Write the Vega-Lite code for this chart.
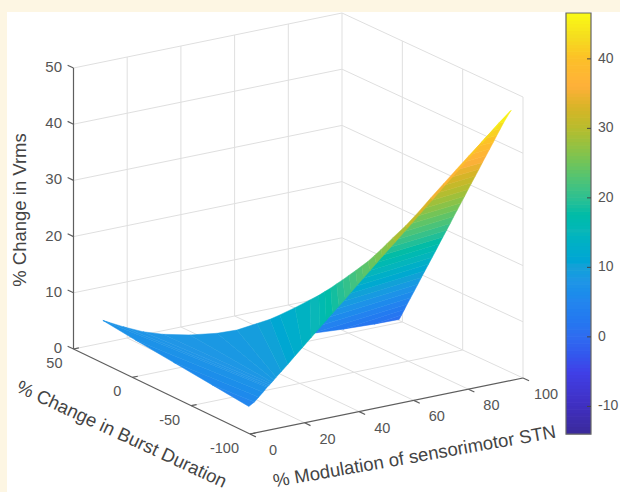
{"$schema":"https://vega.github.io/schema/vega-lite/v6.json","autosize":{"type":"none"},"width":613,"height":480,"padding":{"left":7,"top":12,"right":0,"bottom":0},"background":"#fdf6e3","view":{"fill":"white","stroke":null},
"config":{"text":{"font":"Liberation Sans"}},
"encoding":{"x":{"field":"px","type":"quantitative","scale":{"domain":[7,620]},"axis":null},"y":{"field":"py","type":"quantitative","scale":{"domain":[492,12]},"axis":null}},
"layer":[
{"data":{"values":[
{"kind":"grid","m1":0,"b1":50,"z1":0,"m2":100,"b2":50,"z2":0},{"kind":"grid","m1":0,"b1":50,"z1":10,"m2":100,"b2":50,"z2":10},{"kind":"grid","m1":0,"b1":50,"z1":20,"m2":100,"b2":50,"z2":20},{"kind":"grid","m1":0,"b1":50,"z1":30,"m2":100,"b2":50,"z2":30},{"kind":"grid","m1":0,"b1":50,"z1":40,"m2":100,"b2":50,"z2":40},{"kind":"grid","m1":0,"b1":50,"z1":50,"m2":100,"b2":50,"z2":50},
{"kind":"grid","m1":100,"b1":50,"z1":0,"m2":100,"b2":-100,"z2":0},{"kind":"grid","m1":100,"b1":50,"z1":10,"m2":100,"b2":-100,"z2":10},{"kind":"grid","m1":100,"b1":50,"z1":20,"m2":100,"b2":-100,"z2":20},{"kind":"grid","m1":100,"b1":50,"z1":30,"m2":100,"b2":-100,"z2":30},{"kind":"grid","m1":100,"b1":50,"z1":40,"m2":100,"b2":-100,"z2":40},{"kind":"grid","m1":100,"b1":50,"z1":50,"m2":100,"b2":-100,"z2":50},
{"kind":"grid","m1":20,"b1":50,"z1":0,"m2":20,"b2":50,"z2":50},{"kind":"grid","m1":40,"b1":50,"z1":0,"m2":40,"b2":50,"z2":50},{"kind":"grid","m1":60,"b1":50,"z1":0,"m2":60,"b2":50,"z2":50},{"kind":"grid","m1":80,"b1":50,"z1":0,"m2":80,"b2":50,"z2":50},{"kind":"grid","m1":100,"b1":50,"z1":0,"m2":100,"b2":50,"z2":50},
{"kind":"grid","m1":100,"b1":0,"z1":0,"m2":100,"b2":0,"z2":50},{"kind":"grid","m1":100,"b1":-50,"z1":0,"m2":100,"b2":-50,"z2":50},{"kind":"grid","m1":100,"b1":-100,"z1":0,"m2":100,"b2":-100,"z2":50},
{"kind":"grid","m1":20,"b1":-100,"z1":0,"m2":20,"b2":50,"z2":0},{"kind":"grid","m1":40,"b1":-100,"z1":0,"m2":40,"b2":50,"z2":0},{"kind":"grid","m1":60,"b1":-100,"z1":0,"m2":60,"b2":50,"z2":0},{"kind":"grid","m1":80,"b1":-100,"z1":0,"m2":80,"b2":50,"z2":0},
{"kind":"grid","m1":0,"b1":0,"z1":0,"m2":100,"b2":0,"z2":0},{"kind":"grid","m1":0,"b1":-50,"z1":0,"m2":100,"b2":-50,"z2":0},
{"kind":"axis","m1":0,"b1":50,"z1":0,"m2":0,"b2":50,"z2":50},{"kind":"axis","m1":0,"b1":50,"z1":0,"m2":0,"b2":-100,"z2":0},{"kind":"axis","m1":0,"b1":-100,"z1":0,"m2":100,"b2":-100,"z2":0},
{"kind":"axis","m1":0,"b1":50,"z1":0,"m2":0,"b2":55,"z2":0},{"kind":"axis","m1":0,"b1":50,"z1":10,"m2":0,"b2":55,"z2":10},{"kind":"axis","m1":0,"b1":50,"z1":20,"m2":0,"b2":55,"z2":20},{"kind":"axis","m1":0,"b1":50,"z1":30,"m2":0,"b2":55,"z2":30},{"kind":"axis","m1":0,"b1":50,"z1":40,"m2":0,"b2":55,"z2":40},{"kind":"axis","m1":0,"b1":50,"z1":50,"m2":0,"b2":55,"z2":50},
{"kind":"axis","m1":0,"b1":50,"z1":0,"m2":2,"b2":50,"z2":0},{"kind":"axis","m1":0,"b1":0,"z1":0,"m2":2,"b2":0,"z2":0},{"kind":"axis","m1":0,"b1":-50,"z1":0,"m2":2,"b2":-50,"z2":0},{"kind":"axis","m1":0,"b1":-100,"z1":0,"m2":2,"b2":-100,"z2":0},
{"kind":"axis","m1":0,"b1":-100,"z1":0,"m2":0,"b2":-105,"z2":0},{"kind":"axis","m1":20,"b1":-100,"z1":0,"m2":20,"b2":-105,"z2":0},{"kind":"axis","m1":40,"b1":-100,"z1":0,"m2":40,"b2":-105,"z2":0},{"kind":"axis","m1":60,"b1":-100,"z1":0,"m2":60,"b2":-105,"z2":0},{"kind":"axis","m1":80,"b1":-100,"z1":0,"m2":80,"b2":-105,"z2":0},{"kind":"axis","m1":100,"b1":-100,"z1":0,"m2":100,"b2":-105,"z2":0}
]},
"transform":[
{"calculate":"73.5+2.685*datum.m1+1.1767*(50-datum.b1)+0.0003*datum.m1*(50-datum.b1)","as":"px"},
{"calculate":"349-0.55*datum.m1+0.5667*(50-datum.b1)-0.0000667*datum.m1*(50-datum.b1)-5.62*datum.z1","as":"py"},
{"calculate":"73.5+2.685*datum.m2+1.1767*(50-datum.b2)+0.0003*datum.m2*(50-datum.b2)","as":"px2"},
{"calculate":"349-0.55*datum.m2+0.5667*(50-datum.b2)-0.0000667*datum.m2*(50-datum.b2)-5.62*datum.z2","as":"py2"}],
"layer":[
{"transform":[{"filter":"datum.kind==='grid'"}],"mark":{"type":"rule","stroke":"#dfdfdf","strokeWidth":1},"encoding":{"x2":{"field":"px2"},"y2":{"field":"py2"}}},
{"transform":[{"filter":"datum.kind==='axis'"}],"mark":{"type":"rule","stroke":"#5e5e5e","strokeWidth":1.2},"encoding":{"x2":{"field":"px2"},"y2":{"field":"py2"}}}
]},
{"data":{"values":[
{"patch":"back","vrms":0.2,"mod1":100,"burst1":2.6,"mod2":100,"burst2":2.6},{"patch":"back","vrms":1.2,"mod1":100,"burst1":0.6,"mod2":87.8,"burst2":-3.8},{"patch":"back","vrms":2.4,"mod1":100,"burst1":-1.8,"mod2":73.3,"burst2":-10.5},{"patch":"back","vrms":3.55,"mod1":100,"burst1":-4,"mod2":59.85,"burst2":-16},
{"patch":"back","vrms":5,"mod1":100,"burst1":-6.9,"mod2":61.2,"burst2":-18.4},{"patch":"back","vrms":6.5,"mod1":100,"burst1":-9.9,"mod2":62.6,"burst2":-21},{"patch":"back","vrms":8,"mod1":100,"burst1":-12.9,"mod2":64.1,"burst2":-23.5},{"patch":"back","vrms":9.5,"mod1":100,"burst1":-15.8,"mod2":65.5,"burst2":-26},{"patch":"back","vrms":11,"mod1":100,"burst1":-18.8,"mod2":66.9,"burst2":-28.5},{"patch":"back","vrms":12.5,"mod1":100,"burst1":-21.8,"mod2":68.3,"burst2":-31.1},{"patch":"back","vrms":14,"mod1":100,"burst1":-24.8,"mod2":69.7,"burst2":-33.6},{"patch":"back","vrms":15.5,"mod1":100,"burst1":-27.8,"mod2":71.1,"burst2":-36.1},{"patch":"back","vrms":17,"mod1":100,"burst1":-30.7,"mod2":72.6,"burst2":-38.7},{"patch":"back","vrms":18.5,"mod1":100,"burst1":-33.7,"mod2":74,"burst2":-41.2},{"patch":"back","vrms":20,"mod1":100,"burst1":-36.7,"mod2":75.4,"burst2":-43.7},{"patch":"back","vrms":21.5,"mod1":100,"burst1":-39.7,"mod2":76.8,"burst2":-46.2},{"patch":"back","vrms":23,"mod1":100,"burst1":-42.6,"mod2":78.2,"burst2":-48.8},{"patch":"back","vrms":24.5,"mod1":100,"burst1":-45.6,"mod2":79.7,"burst2":-51.3},{"patch":"back","vrms":26,"mod1":100,"burst1":-48.6,"mod2":81.1,"burst2":-53.8},{"patch":"back","vrms":27.5,"mod1":100,"burst1":-51.6,"mod2":82.5,"burst2":-56.4},{"patch":"back","vrms":29,"mod1":100,"burst1":-54.5,"mod2":83.9,"burst2":-58.9},{"patch":"back","vrms":30.5,"mod1":100,"burst1":-57.5,"mod2":85.3,"burst2":-61.4},{"patch":"back","vrms":32,"mod1":100,"burst1":-60.5,"mod2":86.7,"burst2":-64},{"patch":"back","vrms":33.5,"mod1":100,"burst1":-63.5,"mod2":88.2,"burst2":-66.5},{"patch":"back","vrms":35,"mod1":100,"burst1":-66.4,"mod2":89.6,"burst2":-69},{"patch":"back","vrms":36.5,"mod1":100,"burst1":-69.4,"mod2":91,"burst2":-71.5},{"patch":"back","vrms":38,"mod1":100,"burst1":-72.4,"mod2":92.4,"burst2":-74.1},{"patch":"back","vrms":39.5,"mod1":100,"burst1":-75.4,"mod2":93.8,"burst2":-76.6},{"patch":"back","vrms":41,"mod1":100,"burst1":-78.3,"mod2":95.2,"burst2":-79.1},{"patch":"back","vrms":42.5,"mod1":100,"burst1":-81.3,"mod2":96.7,"burst2":-81.7},{"patch":"back","vrms":44,"mod1":100,"burst1":-84.3,"mod2":98.1,"burst2":-84.2},{"patch":"back","vrms":46.6,"mod1":100,"burst1":-90,"mod2":100,"burst2":-90},
{"patch":"front","vrms":4.8,"mod1":0,"burst1":-99,"mod2":0,"burst2":-99},{"patch":"front","vrms":5.5,"mod1":0,"burst1":-67.5,"mod2":1.7,"burst2":-99.8},{"patch":"front","vrms":6.2,"mod1":0,"burst1":-35,"mod2":3.3,"burst2":-99.7},{"patch":"front","vrms":6.9,"mod1":0,"burst1":-2.6,"mod2":5,"burst2":-99.5},{"patch":"front","vrms":7.6,"mod1":0,"burst1":25,"mod2":6.5,"burst2":-99.4},{"patch":"front","vrms":7.75,"mod1":1.4,"burst1":11.1,"mod2":6.9,"burst2":-99.3},{"patch":"front","vrms":7.9,"mod1":3.4,"burst1":-1.2,"mod2":7.4,"burst2":-99.3},{"patch":"front","vrms":8.1,"mod1":6.6,"burst1":-10.8,"mod2":7.9,"burst2":-99.2},{"patch":"front","vrms":8.3,"mod1":12.6,"burst1":-19.9,"mod2":8.4,"burst2":-99.2},{"patch":"front","vrms":8.6,"mod1":19.6,"burst1":-26.8,"mod2":9.1,"burst2":-99.1},{"patch":"front","vrms":9,"mod1":25.3,"burst1":-30.6,"mod2":10,"burst2":-99},{"patch":"front","vrms":9.8,"mod1":31.6,"burst1":-33.2,"mod2":12,"burst2":-98.8},{"patch":"front","vrms":10.8,"mod1":34.2,"burst1":-38.2,"mod2":14.4,"burst2":-98.6},{"patch":"front","vrms":12,"mod1":35.4,"burst1":-43.7,"mod2":17.2,"burst2":-98.3},{"patch":"front","vrms":13.2,"mod1":39.6,"burst1":-46.9,"mod2":20.1,"burst2":-98},{"patch":"front","vrms":14.6,"mod1":43.4,"burst1":-50.8,"mod2":23.4,"burst2":-97.7},{"patch":"front","vrms":16,"mod1":43.9,"burst1":-57.1,"mod2":26.8,"burst2":-97.3},{"patch":"front","vrms":17,"mod1":44.4,"burst1":-61,"mod2":29.2,"burst2":-97},{"patch":"front","vrms":18,"mod1":44.9,"burst1":-64.9,"mod2":31.6,"burst2":-96.8},{"patch":"front","vrms":19,"mod1":45.6,"burst1":-68.3,"mod2":34,"burst2":-96.6},{"patch":"front","vrms":20,"mod1":46.4,"burst1":-71.7,"mod2":36.4,"burst2":-96.4},{"patch":"front","vrms":21,"mod1":47.4,"burst1":-74.6,"mod2":38.8,"burst2":-96.1},{"patch":"front","vrms":22,"mod1":48.5,"burst1":-77.6,"mod2":41.1,"burst2":-95.9},{"patch":"front","vrms":23,"mod1":49.5,"burst1":-80.4,"mod2":43.5,"burst2":-95.6},{"patch":"front","vrms":24,"mod1":50.6,"burst1":-83.2,"mod2":45.9,"burst2":-95.4},{"patch":"front","vrms":25,"mod1":52.4,"burst1":-84.5,"mod2":48.3,"burst2":-95.1},{"patch":"front","vrms":26,"mod1":54.2,"burst1":-85.8,"mod2":50.7,"burst2":-94.9},{"patch":"front","vrms":27,"mod1":56,"burst1":-86.8,"mod2":53.1,"burst2":-94.7},{"patch":"front","vrms":28,"mod1":57.8,"burst1":-87.8,"mod2":55.5,"burst2":-94.5},{"patch":"front","vrms":30,"mod1":61.4,"burst1":-90.2,"mod2":60.3,"burst2":-94},{"patch":"front","vrms":32,"mod1":65.9,"burst1":-90.5,"mod2":65.1,"burst2":-93.5},{"patch":"front","vrms":34,"mod1":70.6,"burst1":-90.1,"mod2":69.9,"burst2":-93},{"patch":"front","vrms":36,"mod1":75.6,"burst1":-89.5,"mod2":74.6,"burst2":-92.5},{"patch":"front","vrms":38,"mod1":80.3,"burst1":-89.3,"mod2":79.4,"burst2":-92.1},{"patch":"front","vrms":40,"mod1":85,"burst1":-89.2,"mod2":84.2,"burst2":-91.6},{"patch":"front","vrms":42,"mod1":89.7,"burst1":-89.3,"mod2":89,"burst2":-91.1},{"patch":"front","vrms":44,"mod1":94.3,"burst1":-89.4,"mod2":93.8,"burst2":-90.6},{"patch":"front","vrms":46.6,"mod1":100,"burst1":-90,"mod2":100,"burst2":-90}
]},
"transform":[
{"window":[{"op":"lead","field":"vrms","as":"vrmsN"},{"op":"lead","field":"mod1","as":"mod1N"},{"op":"lead","field":"burst1","as":"burst1N"},{"op":"lead","field":"mod2","as":"mod2N"},{"op":"lead","field":"burst2","as":"burst2N"}],"sort":[{"field":"vrms","order":"ascending"}],"groupby":["patch"]},
{"filter":"isValid(datum.vrmsN)"},
{"calculate":"(datum.vrms+datum.vrmsN)/2","as":"band"},
{"calculate":"[datum.mod1,datum.mod1N,datum.mod2N,datum.mod2]","as":"ms"},
{"calculate":"[datum.burst1,datum.burst1N,datum.burst2N,datum.burst2]","as":"bs"},
{"calculate":"[datum.vrms,datum.vrmsN,datum.vrmsN,datum.vrms]","as":"zs"},
{"calculate":"[0,1,2,3]","as":"idx"},
{"flatten":["ms","bs","zs","idx"]},
{"calculate":"73.5+2.685*datum.ms+1.1767*(50-datum.bs)+0.0003*datum.ms*(50-datum.bs)","as":"px"},
{"calculate":"349-0.55*datum.ms+0.5667*(50-datum.bs)-0.0000667*datum.ms*(50-datum.bs)-5.62*datum.zs","as":"py"}],
"encoding":{"order":{"field":"idx","type":"quantitative"},"detail":{"field":"patch"},
"fill":{"field":"band","type":"quantitative","scale":{"domain":[-14,-10,-5,0,5,8,10,15,20,25,30,33,36,40,43,46.6],"range":["#3a2a9a","#3f2fc0","#4040e8","#2f6cf0","#2485ee","#2196e6","#1aa0d8","#10b6ba","#2ec090","#70c45a","#b8bc2e","#d8b428","#feb03a","#fcc028","#f5dc20","#f9fb15"]},"legend":null},
"stroke":{"field":"band","type":"quantitative","scale":{"domain":[-14,-10,-5,0,5,8,10,15,20,25,30,33,36,40,43,46.6],"range":["#3a2a9a","#3f2fc0","#4040e8","#2f6cf0","#2485ee","#2196e6","#1aa0d8","#10b6ba","#2ec090","#70c45a","#b8bc2e","#d8b428","#feb03a","#fcc028","#f5dc20","#f9fb15"]},"legend":null}},
"layer":[
{"transform":[{"filter":"datum.patch==='back'"}],"mark":{"type":"line","filled":true,"interpolate":"linear-closed","strokeWidth":0.5}},
{"transform":[{"filter":"datum.patch==='front'"}],"mark":{"type":"line","filled":true,"interpolate":"linear-closed","strokeWidth":0.5}}
]},
{"data":{"values":[
{"group":"z","label":"0","m":0,"b":50,"z":0},{"group":"z","label":"10","m":0,"b":50,"z":10},{"group":"z","label":"20","m":0,"b":50,"z":20},{"group":"z","label":"30","m":0,"b":50,"z":30},{"group":"z","label":"40","m":0,"b":50,"z":40},{"group":"z","label":"50","m":0,"b":50,"z":50},
{"group":"burst","label":"50","m":0,"b":50,"z":0},{"group":"burst","label":"0","m":0,"b":0,"z":0},{"group":"burst","label":"-50","m":0,"b":-50,"z":0},{"group":"burst","label":"-100","m":0,"b":-100,"z":0},
{"group":"mod","label":"0","m":0,"b":-100,"z":0},{"group":"mod","label":"20","m":20,"b":-100,"z":0},{"group":"mod","label":"40","m":40,"b":-100,"z":0},{"group":"mod","label":"60","m":60,"b":-100,"z":0},{"group":"mod","label":"80","m":80,"b":-100,"z":0},{"group":"mod","label":"100","m":100,"b":-100,"z":0},
{"group":"titleBurst","label":"% Change in Burst Duration","m":-33.2,"b":-67.8,"z":0},{"group":"titleMod","label":"% Modulation of sensorimotor STN","m":30,"b":-169.6,"z":0},{"group":"titleZ","label":"% Change in Vrms","m":-14.8,"b":61.7,"z":25}
]},
"transform":[
{"calculate":"73.5+2.685*datum.m+1.1767*(50-datum.b)+0.0003*datum.m*(50-datum.b)","as":"px"},
{"calculate":"349-0.55*datum.m+0.5667*(50-datum.b)-0.0000667*datum.m*(50-datum.b)-5.62*datum.z","as":"py"}],
"encoding":{"text":{"field":"label"}},
"layer":[
{"transform":[{"filter":"datum.group==='z'"}],"mark":{"type":"text","align":"right","baseline":"middle","dx":-11.5,"dy":-1,"fontSize":15,"fill":"#555555"}},
{"transform":[{"filter":"datum.group==='burst'"}],"mark":{"type":"text","align":"right","baseline":"middle","dx":-11,"dy":15,"fontSize":14.5,"fill":"#555555"}},
{"transform":[{"filter":"datum.group==='mod'"}],"mark":{"type":"text","align":"center","baseline":"middle","dx":23,"dy":17,"fontSize":14.5,"fill":"#555555"}},
{"transform":[{"filter":"datum.group==='titleBurst'"}],"mark":{"type":"text","align":"center","baseline":"middle","angle":25,"fontSize":18.5,"fill":"#444444"}},
{"transform":[{"filter":"datum.group==='titleMod'"}],"mark":{"type":"text","align":"center","baseline":"middle","angle":-10,"fontSize":18.5,"fill":"#444444"}},
{"transform":[{"filter":"datum.group==='titleZ'"}],"mark":{"type":"text","align":"center","baseline":"middle","angle":-90,"fontSize":18.5,"fill":"#444444"}}
]},
{"data":{"values":[-14,-13.5,-13,-12.5,-12,-11.5,-11,-10.5,-10,-9.5,-9,-8.5,-8,-7.5,-7,-6.5,-6,-5.5,-5,-4.5,-4,-3.5,-3,-2.5,-2,-1.5,-1,-0.5,0,0.5,1,1.5,2,2.5,3,3.5,4,4.5,5,5.5,6,6.5,7,7.5,8,8.5,9,9.5,10,10.5,11,11.5,12,12.5,13,13.5,14,14.5,15,15.5,16,16.5,17,17.5,18,18.5,19,19.5,20,20.5,21,21.5,22,22.5,23,23.5,24,24.5,25,25.5,26,26.5,27,27.5,28,28.5,29,29.5,30,30.5,31,31.5,32,32.5,33,33.5,34,34.5,35,35.5,36,36.5,37,37.5,38,38.5,39,39.5,40,40.5,41,41.5,42,42.5,43,43.5,44,44.5,45,45.5,46,46.5]},
"transform":[{"calculate":"datum.data+0.25","as":"colorbar"},{"calculate":"566","as":"px"},{"calculate":"591","as":"px2"},{"calculate":"13+(46.6-datum.data)*6.95","as":"py"},{"calculate":"max(13,13+(46.6-datum.data-0.6)*6.95)","as":"py2"}],
"mark":{"type":"rect"},
"encoding":{"x2":{"field":"px2"},"y2":{"field":"py2"},"fill":{"field":"colorbar","type":"quantitative","scale":{"domain":[-14,-10,-5,0,5,8,10,15,20,25,30,33,36,40,43,46.6],"range":["#3a2a9a","#3f2fc0","#4040e8","#2f6cf0","#2485ee","#2196e6","#1aa0d8","#10b6ba","#2ec090","#70c45a","#b8bc2e","#d8b428","#feb03a","#fcc028","#f5dc20","#f9fb15"]},"legend":null}}},
{"data":{"values":[{"lo":-14,"hi":46.6}]},
"transform":[{"calculate":"566","as":"px"},{"calculate":"591","as":"px2"},{"calculate":"13+(46.6-datum.lo)*6.95","as":"py"},{"calculate":"13+(46.6-datum.hi)*6.95","as":"py2"}],
"mark":{"type":"rect","fillOpacity":0,"stroke":"#666666","strokeWidth":1.2},"encoding":{"x2":{"field":"px2"},"y2":{"field":"py2"}}},
{"data":{"values":[{"tick":-10},{"tick":0},{"tick":10},{"tick":20},{"tick":30},{"tick":40}]},
"transform":[{"calculate":"13+(46.6-datum.tick)*6.95","as":"py"},{"calculate":"587","as":"px"},{"calculate":"591","as":"px2"},{"calculate":"598","as":"pt"}],
"layer":[
{"mark":{"type":"rule","stroke":"#444444","strokeWidth":1},"encoding":{"x2":{"field":"px2"}}},
{"mark":{"type":"text","align":"left","baseline":"middle","fontSize":14,"fill":"#555555"},"encoding":{"x":{"field":"pt","type":"quantitative"},"text":{"field":"tick"}}}
]}
]}
